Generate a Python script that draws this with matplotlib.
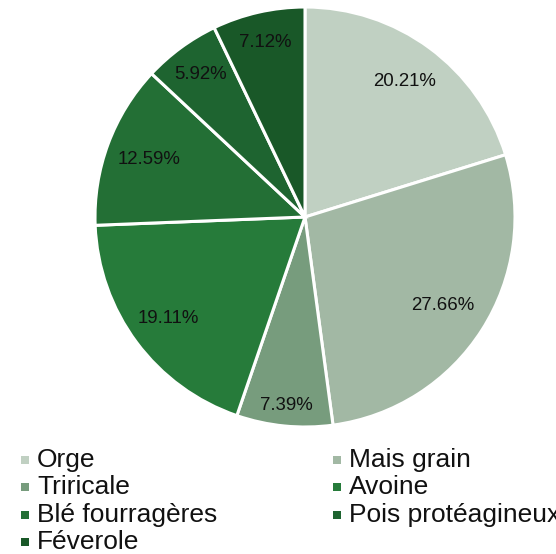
import matplotlib
matplotlib.use("Agg")
import numpy as np
import matplotlib.pyplot as plt
from matplotlib.patches import Rectangle

categories = ["Orge", "Mais grain", "Triricale", "Avoine", "Blé fourragères",
              "Pois protéagineux", "Féverole"]
values = [20.21, 27.66, 7.39, 19.11, 12.59, 5.92, 7.12]
colors = ["#c0d0c2", "#a2b8a4", "#779c7d", "#267b3a", "#236f35", "#1e6430", "#195828"]
label_dist = [0.80, 0.78, 0.90, 0.81, 0.79, 0.84, 0.85]

W, H = 556, 554
fig = plt.figure(figsize=(W / 100, H / 100), dpi=100)
plt.rcParams['font.family'] = ['Liberation Sans', 'DejaVu Sans']

cx, cy, r = 305, 217, 210
ax = fig.add_axes([(cx - r) / W, (H - cy - r) / H, 2 * r / W, 2 * r / H])
wedges, texts = ax.pie(
    values, colors=colors, startangle=90, counterclock=False,
    wedgeprops=dict(edgecolor="white", linewidth=2.2))
for w, v, d in zip(wedges, values, label_dist):
    ang = np.deg2rad((w.theta1 + w.theta2) / 2)
    ax.text(d * np.cos(ang), d * np.sin(ang), f"{v:.2f}%", ha="center",
            va="center", fontsize=13.4, color="#111111")
ax.set_xlim(-1, 1)
ax.set_ylim(-1, 1)
ax.set_aspect("equal")
ax.axis("off")

# legend (row-major, two columns)
for i, (lab, col) in enumerate(zip(categories, colors)):
    row, c = divmod(i, 2)
    x = 21 + c * 312
    y = 460 + row * 27.3
    sq = 8
    fig.patches.append(Rectangle((x / W, (H - y - sq / 2) / H), sq / W, sq / H,
                                 transform=fig.transFigure, facecolor=col,
                                 edgecolor="none"))
    fig.text((x + 16) / W, (H - y) / H, lab, fontsize=19, va="center",
             ha="left", color="#111111")

fig.savefig("out.png", dpi=100)
